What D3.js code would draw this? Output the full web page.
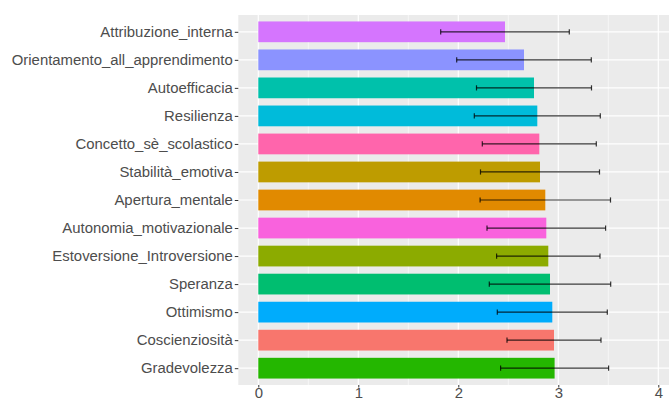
<!DOCTYPE html>
<html>
<head>
<meta charset="utf-8">
<script src="https://cdn.jsdelivr.net/npm/d3@7"></script>
<style>
  html, body { margin: 0; padding: 0; background: #ffffff; }
  svg { display: block; }
</style>
</head>
<body>
<svg id="chart" width="669" height="401"></svg>
<script>
// Scale names, top to bottom
const categories = [
  "Attribuzione_interna",
  "Orientamento_all_apprendimento",
  "Autoefficacia",
  "Resilienza",
  "Concetto_sè_scolastico",
  "Stabilità_emotiva",
  "Apertura_mentale",
  "Autonomia_motivazionale",
  "Estoversione_Introversione",
  "Speranza",
  "Ottimismo",
  "Coscienziosità",
  "Gradevolezza"
];
// Mean score per scale
const means = [2.467, 2.657, 2.757, 2.79, 2.81, 2.817, 2.87, 2.88, 2.9, 2.917, 2.94, 2.957, 2.963];
// Standard deviation per scale (error bar half-width)
const sds = [0.643, 0.673, 0.575, 0.63, 0.57, 0.595, 0.652, 0.593, 0.517, 0.607, 0.55, 0.47, 0.54];
// Fill colour per scale
const colors = [
  "#D575FE", "#8B93FF", "#00C1AB", "#00BBDA", "#FF65AC", "#BE9C00", "#E18A00",
  "#F962DD", "#8CAB00", "#00BE70", "#00ACFC", "#F8766D", "#24B700"
];
const xTicks = [0, 1, 2, 3, 4];
const xMinor = [0.5, 1.5, 2.5, 3.5];

const svg = d3.select("#chart");
const panel = { left: 238.3, top: 15, right: 678.3, bottom: 385 };
const fontFamily = "'Liberation Sans', Arial, sans-serif";
const fontSize = "14.9px";

const x = d3.scaleLinear().domain([-0.2, 4.2]).range([panel.left, panel.right]);

// Discrete axis with 0.6 band expansion on each side
const n = categories.length;
const step = (panel.bottom - panel.top) / (n - 1 + 1.2);
const y = d3.scalePoint().domain(categories)
  .range([panel.top + 0.6 * step, panel.bottom - 0.6 * step]);
const barH = step * 0.74;

const data = categories.map((c, i) => ({ name: c, mean: means[i], sd: sds[i], color: colors[i] }));

// Panel background
svg.append("rect")
  .attr("x", panel.left).attr("y", panel.top)
  .attr("width", panel.right - panel.left).attr("height", panel.bottom - panel.top)
  .attr("fill", "#EBEBEB");

const grid = svg.append("g");
grid.selectAll("line.minor").data(xMinor).join("line")
  .attr("x1", d => x(d)).attr("x2", d => x(d))
  .attr("y1", panel.top).attr("y2", panel.bottom)
  .attr("stroke", "#ffffff").attr("stroke-width", 0.6);
grid.selectAll("line.major").data(xTicks).join("line")
  .attr("x1", d => x(d)).attr("x2", d => x(d))
  .attr("y1", panel.top).attr("y2", panel.bottom)
  .attr("stroke", "#ffffff").attr("stroke-width", 1.2);
grid.selectAll("line.hmajor").data(categories).join("line")
  .attr("x1", panel.left).attr("x2", panel.right)
  .attr("y1", d => y(d)).attr("y2", d => y(d))
  .attr("stroke", "#ffffff").attr("stroke-width", 1.2);

// Bars
svg.append("g").selectAll("rect").data(data).join("rect")
  .attr("x", x(0))
  .attr("y", d => y(d.name) - barH / 2)
  .attr("width", d => x(d.mean) - x(0))
  .attr("height", barH)
  .attr("fill", d => d.color);

// Error bars (mean ± sd)
const eb = svg.append("g").attr("stroke", "#000000").attr("stroke-opacity", 0.78).attr("stroke-width", 1.2);
const capH = 2.6;
data.forEach(d => {
  const yc = y(d.name);
  const lo = x(d.mean - d.sd), hi = x(d.mean + d.sd);
  eb.append("line").attr("x1", lo).attr("x2", hi).attr("y1", yc).attr("y2", yc);
  eb.append("line").attr("x1", lo).attr("x2", lo).attr("y1", yc - capH).attr("y2", yc + capH);
  eb.append("line").attr("x1", hi).attr("x2", hi).attr("y1", yc - capH).attr("y2", yc + capH);
});

// Y axis
const yAxis = svg.append("g")
  .attr("transform", `translate(${panel.left},0)`)
  .call(d3.axisLeft(y).tickSize(3.5).tickPadding(2));
yAxis.select(".domain").remove();
yAxis.selectAll(".tick line").attr("stroke", "#333333").attr("stroke-width", 1);
yAxis.selectAll(".tick text")
  .attr("fill", "#4D4D4D")
  .style("font-family", fontFamily)
  .style("font-size", fontSize);

// X axis
const xAxis = svg.append("g")
  .attr("transform", `translate(0,${panel.bottom})`)
  .call(d3.axisBottom(x).tickValues(xTicks).tickFormat(d3.format("d")).tickSize(2.5));
xAxis.select(".domain").remove();
xAxis.selectAll(".tick line").attr("stroke", "#333333").attr("stroke-width", 1);
xAxis.selectAll(".tick text")
  .attr("y", 13.3)
  .attr("dy", 0)
  .attr("fill", "#4D4D4D")
  .style("font-family", fontFamily)
  .style("font-size", fontSize);
</script>
</body>
</html>
